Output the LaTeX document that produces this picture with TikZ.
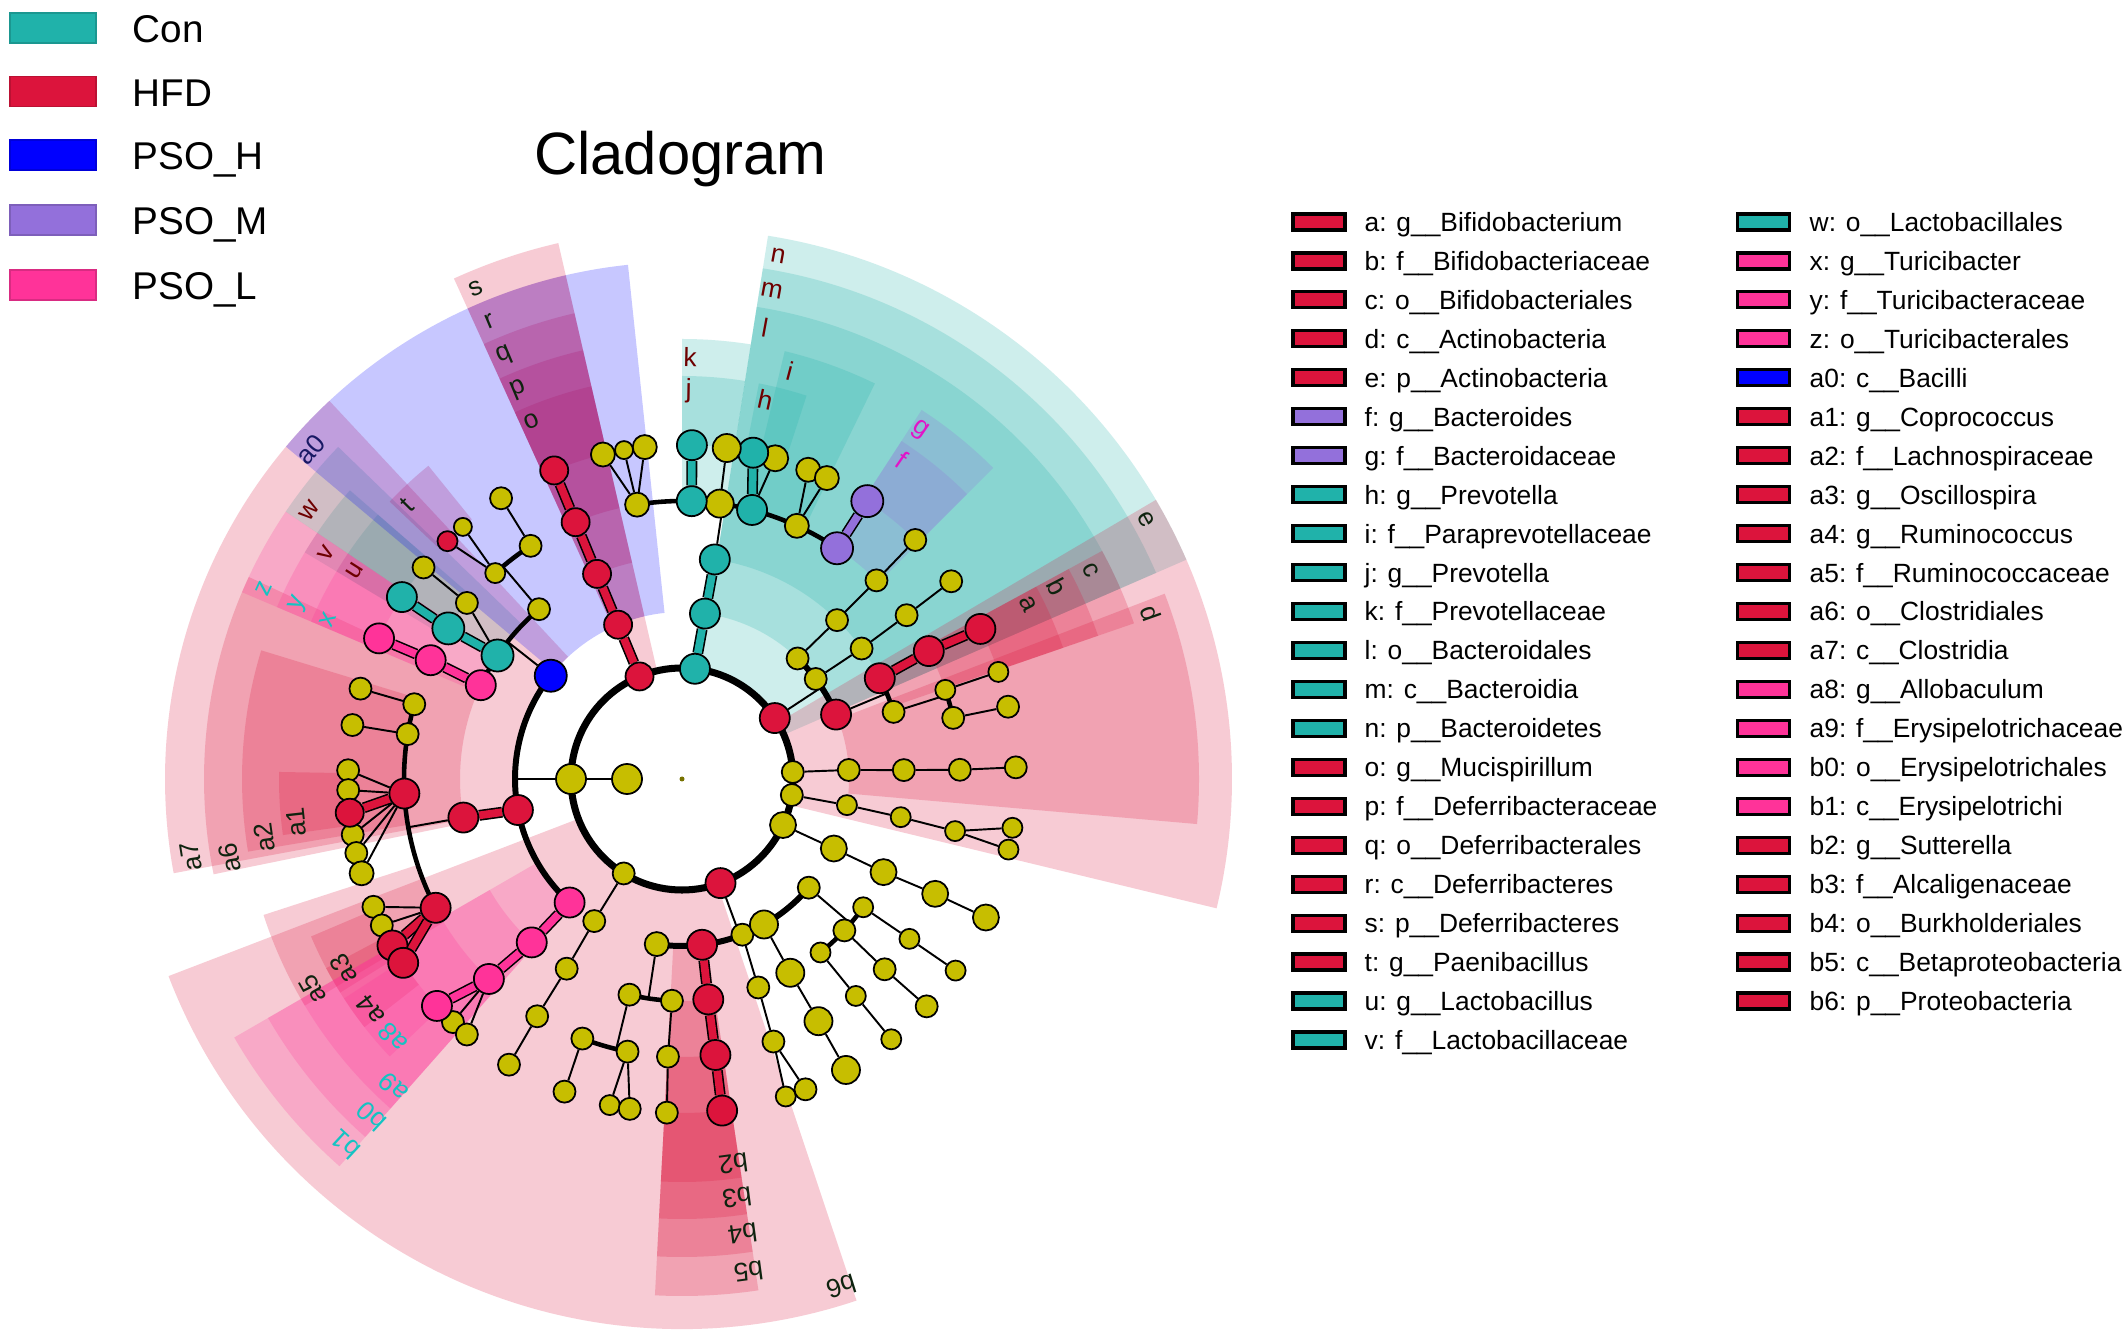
\documentclass[tikz,border=0pt]{standalone}
\usepackage{fontspec}
\setmainfont{Liberation Sans}
\pgfdeclarelayer{back}
\pgfdeclarelayer{edges}
\pgfsetlayers{back,edges,main}
\definecolor{Tc}{RGB}{32,178,170}
\definecolor{Rc}{RGB}{220,20,60}
\definecolor{Bc}{RGB}{0,0,255}
\definecolor{Pc}{RGB}{147,112,219}
\definecolor{Kc}{RGB}{255,51,153}
\definecolor{Yc}{RGB}{199,190,0}
\definecolor{dk}{RGB}{15,35,15}
\definecolor{mr}{RGB}{110,0,0}
\definecolor{mg}{RGB}{225,20,200}
\definecolor{cy}{RGB}{20,195,195}
\definecolor{nv}{RGB}{25,25,100}
\tikzset{
 nd/.style={circle, draw=black, line width=0.5pt, fill=#1, inner sep=0pt},
 thinE/.style={line width=0.55pt, draw=black},
 arcA/.style={line width=1.7pt, draw=black},
 arcB/.style={line width=1.3pt, draw=black},
 ring/.style={line width=2pt, draw=black},
 cE/.style={line width=0.45pt, draw=black, double=#1, double distance=2.2pt},
 sec/.style={fill=#1, fill opacity=0.22},
 lab/.style={font=\fontsize{7.5}{9}\selectfont, inner sep=0pt},
 leg/.style={font=\fontsize{7.5}{9}\selectfont, anchor=base west, inner sep=0pt},
 lbox/.style={draw=black, line width=0.9pt, fill=#1, minimum width=0.52cm, minimum height=0.16cm, inner sep=0pt, outer sep=0pt},
 gbox/.style={fill=#1, draw=#1!85!black, line width=0.3pt, minimum width=0.86cm, minimum height=0.30cm, inner sep=0pt},
 gtxt/.style={font=\fontsize{11}{13}\selectfont, anchor=base west, inner sep=0pt}
}
\newcommand\Nd[5]{\node[nd=#1, minimum size=#2*0.02cm] (#3) at (#4:#5) {};}
\newcommand\Sect[5]{\fill[sec=#5] (#1:#3) arc[start angle=#1,end angle=#2,radius=#3] -- (#2:#4) arc[start angle=#2,end angle=#1,radius=#4] -- cycle;}
\newcommand\Lb[5]{\node[lab, text=#5, rotate=#2-90] (lb#1) at (#2:#3) {#4};}
\begin{document}
\begin{tikzpicture}[x=0.01cm,y=0.01cm]
\useasboundingbox (0,0) rectangle (2128,1339);
\begin{pgfonlayer}{back}
\fill[white] (0,0) rectangle (2128,1339);
\end{pgfonlayer}
% group legend
\node[gbox=Tc] (gk1) at (53,1311) {};
\node[gtxt] (gt1) at (132,1296.3) {Con};
\node[gbox=Rc] (gk2) at (53,1247.5) {};
\node[gtxt] (gt2) at (132,1232.3) {HFD};
\node[gbox=Bc] (gk3) at (53,1184) {};
\node[gtxt] (gt3) at (132,1169) {PSO\_H};
\node[gbox=Pc] (gk4) at (53,1119) {};
\node[gtxt] (gt4) at (132,1104) {PSO\_M};
\node[gbox=Kc] (gk5) at (53,1054) {};
\node[gtxt] (gt5) at (132,1039) {PSO\_L};
% title
\node[font=\fontsize{17}{20}\selectfont, anchor=base, inner sep=0pt] (title) at (680.5,1164) {Cladogram};
% right legend
\foreach \t/\c [count=\i from 0] in {
a: g\_\_Bifidobacterium/Rc,
b: f\_\_Bifidobacteriaceae/Rc,
c: o\_\_Bifidobacteriales/Rc,
d: c\_\_Actinobacteria/Rc,
e: p\_\_Actinobacteria/Rc,
f: g\_\_Bacteroides/Pc,
g: f\_\_Bacteroidaceae/Pc,
h: g\_\_Prevotella/Tc,
i: f\_\_Paraprevotellaceae/Tc,
j: g\_\_Prevotella/Tc,
k: f\_\_Prevotellaceae/Tc,
l: o\_\_Bacteroidales/Tc,
m: c\_\_Bacteroidia/Tc,
n: p\_\_Bacteroidetes/Tc,
o: g\_\_Mucispirillum/Rc,
p: f\_\_Deferribacteraceae/Rc,
q: o\_\_Deferribacterales/Rc,
r: c\_\_Deferribacteres/Rc,
s: p\_\_Deferribacteres/Rc,
t: g\_\_Paenibacillus/Rc,
u: g\_\_Lactobacillus/Tc,
v: f\_\_Lactobacillaceae/Tc}{
 \pgfmathsetmacro\yy{1339-222-38.95*\i}
 \node[lbox=\c] (lk\i) at (1319,\yy) {};
 \node[leg] (lt\i) at (1364,\yy-9.5) {\t};
}
\foreach \t/\c [count=\i from 0] in {
w: o\_\_Lactobacillales/Tc,
x: g\_\_Turicibacter/Kc,
y: f\_\_Turicibacteraceae/Kc,
z: o\_\_Turicibacterales/Kc,
a0: c\_\_Bacilli/Bc,
a1: g\_\_Coprococcus/Rc,
a2: f\_\_Lachnospiraceae/Rc,
a3: g\_\_Oscillospira/Rc,
a4: g\_\_Ruminococcus/Rc,
a5: f\_\_Ruminococcaceae/Rc,
a6: o\_\_Clostridiales/Rc,
a7: c\_\_Clostridia/Rc,
a8: g\_\_Allobaculum/Kc,
a9: f\_\_Erysipelotrichaceae/Kc,
b0: o\_\_Erysipelotrichales/Kc,
b1: c\_\_Erysipelotrichi/Kc,
b2: g\_\_Sutterella/Rc,
b3: f\_\_Alcaligenaceae/Rc,
b4: o\_\_Burkholderiales/Rc,
b5: c\_\_Betaproteobacteria/Rc,
b6: p\_\_Proteobacteria/Rc}{
 \pgfmathsetmacro\yy{1339-222-38.95*\i}
 \node[lbox=\c] (mk\i) at (1763.5,\yy) {};
 \node[leg] (mt\i) at (1809,\yy-9.5) {\t};
}
% ===== cladogram =====
\begin{scope}[shift={(682,560)}]
\begin{pgfonlayer}{back}
\Sect{23.5}{81}{111}{550}{Tc}
\Sect{23.5}{81}{167}{517}{Tc}
\Sect{23.5}{81}{222}{478}{Tc}
\Sect{81}{90}{278}{440}{Tc}
\Sect{81}{90}{334}{403}{Tc}
\Sect{64}{76.5}{278}{440}{Tc}
\Sect{72}{79}{334}{403}{Tc}
\Sect{136}{146}{222}{478}{Tc}
\Sect{139}{149}{278}{440}{Tc}
\Sect{139}{149}{334}{403}{Tc}
\Sect{-13.6}{30.5}{111}{550}{Rc}
\Sect{-5}{21}{167}{517}{Rc}
\Sect{19}{28.5}{222}{478}{Rc}
\Sect{19}{28.5}{278}{440}{Rc}
\Sect{19}{28.5}{334}{403}{Rc}
\Sect{103}{114.5}{111}{550}{Rc}
\Sect{103}{114.5}{167}{517}{Rc}
\Sect{103}{114.5}{222}{478}{Rc}
\Sect{103}{114.5}{278}{440}{Rc}
\Sect{103}{114.5}{334}{403}{Rc}
\Sect{129}{136.5}{334}{403}{Rc}
\Sect{133}{190.5}{167}{517}{Rc}
\Sect{155}{191.5}{222}{478}{Rc}
\Sect{163}{189.5}{278}{440}{Rc}
\Sect{179}{188}{334}{403}{Rc}
\Sect{198}{211}{278}{440}{Rc}
\Sect{203}{212}{334}{403}{Rc}
\Sect{208}{218}{334}{403}{Rc}
\Sect{201}{288.5}{111}{550}{Rc}
\Sect{267}{278.5}{167}{517}{Rc}
\Sect{267}{278.5}{222}{478}{Rc}
\Sect{267}{278.5}{278}{440}{Rc}
\Sect{267}{278.5}{334}{403}{Rc}
\Sect{96}{140}{167}{517}{Bc}
\Sect{45}{57}{278}{440}{Pc}
\Sect{45}{57}{334}{403}{Pc}
\Sect{146}{157}{222}{478}{Kc}
\Sect{146}{157}{278}{440}{Kc}
\Sect{146}{157}{334}{403}{Kc}
\Sect{210}{228.5}{167}{517}{Kc}
\Sect{210}{228.5}{222}{478}{Kc}
\Sect{210}{228.5}{278}{440}{Kc}
\Sect{213}{223.5}{334}{403}{Kc}
\end{pgfonlayer}
\fill[Yc!60!black] (0,0) circle[radius=2.5];
% phyla
\Nd{Rc}{15}{ne}{33.3}{111}
\Nd{Yc}{11}{py1}{3.6}{111}
\Nd{Yc}{11}{py2}{-8.3}{111}
\Nd{Yc}{13}{py3}{-24.5}{111}
\Nd{Rc}{15}{nb6}{290.3}{111}
\Nd{Yc}{11}{py4}{238.3}{111}
\Nd{Yc}{15}{fir}{180}{111}
\Nd{Yc}{15}{fin}{180}{55}
\Nd{Rc}{14}{ns}{112.5}{111}
\Nd{Tc}{15}{nn}{83.3}{111}
% Actinobacteria
\Nd{Yc}{11}{ya}{46.2}{167}
\Nd{Yc}{11}{ya3}{45.7}{222}
\Nd{Yc}{11}{ya4}{45.6}{278}
\Nd{Yc}{11}{ya5}{45.7}{334}
\Nd{Yc}{11}{yb}{36.8}{167}
\Nd{Yc}{11}{yb3}{36}{222}
\Nd{Yc}{11}{yb4}{36.1}{278}
\Nd{Yc}{11}{yb5}{36.3}{334}
\Nd{Rc}{15}{ndd}{22.7}{167}
\Nd{Rc}{15}{nc}{27}{222}
\Nd{Rc}{15}{nbb}{27.4}{278}
\Nd{Rc}{15}{na}{26.7}{334}
\Nd{Yc}{11}{yc}{17.6}{222}
\Nd{Yc}{10}{yd}{18.7}{278}
\Nd{Yc}{11}{ye}{12.7}{278}
\Nd{Yc}{10}{yd5}{18.7}{334}
\Nd{Yc}{11}{ye5}{12.5}{334}
% other small phyla
\Nd{Yc}{11}{y12}{3.1}{167}
\Nd{Yc}{11}{y13}{2.3}{222}
\Nd{Yc}{11}{y14}{1.9}{278}
\Nd{Yc}{11}{y15}{2}{334}
\Nd{Yc}{10}{y22}{-9}{167}
\Nd{Yc}{10}{y23}{-9.9}{222}
\Nd{Yc}{10}{y24}{-10.8}{278}
\Nd{Yc}{10}{y25a}{-8.4}{334}
\Nd{Yc}{10}{y25b}{-12.2}{334}
\Nd{Yc}{13}{y32}{-24.6}{167}
\Nd{Yc}{13}{y33}{-24.8}{222}
\Nd{Yc}{13}{y34}{-24.4}{278}
\Nd{Yc}{13}{y35}{-24.5}{334}
% Proteobacteria
\Nd{Yc}{12}{yp1}{261.3}{167}
\Nd{Rc}{15}{nb5}{276.9}{167}
\Nd{Yc}{11}{yp2}{291.2}{167}
\Nd{Yc}{14}{yp3}{299.4}{167}
\Nd{Yc}{11}{yp4}{319.4}{167}
\Nd{Rc}{15}{nb4}{276.8}{222}
\Nd{Rc}{15}{nb3}{276.9}{278}
\Nd{Rc}{15}{nb2}{276.9}{334}
\Nd{Yc}{11}{yp23}{290.1}{222}
\Nd{Yc}{11}{yp24}{289.2}{278}
\Nd{Yc}{10}{yp25a}{288.1}{334}
\Nd{Yc}{11}{yp25b}{291.7}{334}
\Nd{Yc}{14}{yp33}{299.2}{222}
\Nd{Yc}{14}{yp34}{299.4}{278}
\Nd{Yc}{14}{yp35}{299.4}{334}
\Nd{Yc}{10}{yq1}{324.7}{222}
\Nd{Yc}{11}{yq2}{317}{222}
\Nd{Yc}{10}{yq3}{308.6}{222}
\Nd{Yc}{10}{yq14}{324.9}{278}
\Nd{Yc}{10}{yq15}{325}{334}
\Nd{Yc}{11}{yq24}{316.8}{278}
\Nd{Yc}{11}{yq25}{317.1}{334}
\Nd{Yc}{10}{yq34}{308.7}{278}
\Nd{Yc}{10}{yq35}{308.8}{334}
\Nd{Yc}{11}{yr1}{256.3}{222}
\Nd{Yc}{11}{yr2}{267.4}{222}
\Nd{Yc}{11}{yr1a}{249}{278}
\Nd{Yc}{11}{yr1b}{258.7}{278}
\Nd{Yc}{11}{yr1a5}{249.4}{334}
\Nd{Yc}{10}{yr1b5a}{257.5}{334}
\Nd{Yc}{11}{yr1b5b}{261}{334}
\Nd{Yc}{11}{yr24}{267.1}{278}
\Nd{Yc}{11}{yr25}{267.4}{334}
\Nd{Yc}{11}{y42}{238.3}{167}
\Nd{Yc}{11}{y43}{238.7}{222}
\Nd{Yc}{11}{y44}{238.6}{278}
\Nd{Yc}{11}{y45}{238.8}{334}
% Firmicutes
\Nd{Bc}{16}{na0}{141.8}{167}
\Nd{Rc}{15}{na7}{190.7}{167}
\Nd{Kc}{15}{nb1}{227.7}{167}
\Nd{Yc}{11}{ybac}{130.1}{222}
\Nd{Tc}{16}{nw}{146.2}{222}
\Nd{Kc}{15}{nz}{155}{222}
\Nd{Yc}{10}{yf1}{132.2}{278}
\Nd{Yc}{11}{yf2}{123}{278}
\Nd{Rc}{10}{nt}{134.6}{334}
\Nd{Yc}{9}{yt2}{131}{334}
\Nd{Yc}{11}{yf25}{122.8}{334}
\Nd{Tc}{16}{nv}{147.2}{278}
\Nd{Yc}{11}{yl}{140.7}{278}
\Nd{Tc}{15}{nu}{147}{334}
\Nd{Yc}{11}{yl5}{140.7}{334}
\Nd{Kc}{15}{ny}{154.7}{278}
\Nd{Kc}{15}{nx}{155.1}{334}
\Nd{Rc}{15}{na6}{190}{222}
\Nd{Yc}{11}{yg1}{164.4}{278}
\Nd{Yc}{11}{yg2}{170.7}{278}
\Nd{Rc}{15}{na2}{183}{278}
\Nd{Rc}{15}{na5}{207.6}{278}
\Nd{Yc}{11}{yg15}{164.3}{334}
\Nd{Yc}{11}{yg25}{170.7}{334}
\Nd{Yc}{11}{yc1}{178.5}{334}
\Nd{Yc}{11}{yc2}{181.9}{334}
\Nd{Yc}{11}{yc3}{189.6}{334}
\Nd{Yc}{11}{yc4}{192.8}{334}
\Nd{Yc}{12}{yc5}{196.4}{334}
\Nd{Rc}{14}{na1}{185.8}{334}
\Nd{Yc}{11}{yr5a}{202.5}{334}
\Nd{Yc}{11}{yr5b}{206}{334}
\Nd{Rc}{15}{na4}{209.9}{334}
\Nd{Rc}{15}{na3}{213.4}{334}
\Nd{Kc}{15}{nb0}{227.4}{222}
\Nd{Kc}{15}{na9}{226}{278}
\Nd{Yc}{11}{ye8a}{226.7}{334}
\Nd{Yc}{11}{ye8b}{229.9}{334}
\Nd{Kc}{15}{na8}{222.8}{334}
% Deferribacteres
\Nd{Rc}{14}{nr}{112.5}{167}
\Nd{Rc}{14}{nq}{112.5}{222}
\Nd{Rc}{14}{np}{112.5}{278}
\Nd{Rc}{14}{no}{112.5}{334}
% Bacteroidetes
\Nd{Tc}{15}{nm}{82.1}{167}
\Nd{Tc}{15}{nl}{81.5}{222}
\Nd{Pc}{16}{ng}{56.1}{278}
\Nd{Yc}{12}{yh}{65.6}{278}
\Nd{Tc}{15}{ni}{75.4}{278}
\Nd{Yc}{14}{yk}{82.2}{278}
\Nd{Tc}{15}{nk}{88}{278}
\Nd{Yc}{12}{ym}{99.3}{278}
\Nd{Pc}{16}{nf}{56.3}{334}
\Nd{Yc}{12}{yh5a}{67.8}{334}
\Nd{Yc}{12}{yh5b}{64.3}{334}
\Nd{Yc}{13}{yi5}{73.8}{334}
\Nd{Tc}{15}{nh}{77.7}{334}
\Nd{Yc}{14}{yk5}{82.3}{334}
\Nd{Tc}{15}{nj}{88.3}{334}
\Nd{Yc}{12}{ym5a}{103.7}{334}
\Nd{Yc}{9}{ym5b}{100}{334}
\Nd{Yc}{12}{ym5c}{96.4}{334}
% coordinates (free ends on arcs)
\coordinate (je) at (33.3:167);
\coordinate (jd) at (22.7:222);
\coordinate (jyc) at (17.6:278);
\coordinate (jb6) at (290.3:167);
\coordinate (jp4) at (319.4:222);
\coordinate (jp1) at (261.3:222);
\coordinate (jr1) at (256.3:278);
\coordinate (jf) at (180:167);
\coordinate (ja0) at (141.8:222);
\coordinate (jbac) at (130.1:278);
\coordinate (ja6) at (190:278);
\coordinate (jl) at (81.5:278);
\begin{pgfonlayer}{edges}
\draw[ring] (0,0) circle[radius=111];
\draw[thinE] (fir) -- (fin);
% Actinobacteria
\draw[thinE] (ne) -- (je);
\draw[arcA] (ndd.center) arc[start angle=22.7,end angle=46.2,radius=167];
\draw[thinE] (ya)--(ya3)--(ya4)--(ya5);
\draw[thinE] (yb)--(yb3)--(yb4)--(yb5);
\draw[thinE] (ndd) -- (jd);
\draw[arcB] (yc.center) arc[start angle=17.6,end angle=27,radius=222];
\draw[cE=Rc] (nc)--(nbb);
\draw[cE=Rc] (nbb)--(na);
\draw[thinE] (yc)--(jyc);
\draw[arcB] (ye.center) arc[start angle=12.7,end angle=18.7,radius=278];
\draw[thinE] (yd)--(yd5);
\draw[thinE] (ye)--(ye5);
% small phyla
\draw[thinE] (py1)--(y12)--(y13)--(y14)--(y15);
\draw[thinE] (py2)--(y22)--(y23)--(y24)--(y25a);
\draw[thinE] (y24)--(y25b);
\draw[thinE] (py3)--(y32)--(y33)--(y34)--(y35);
\draw[thinE] (py4)--(y42)--(y43)--(y44)--(y45);
% Proteobacteria
\draw[thinE] (nb6)--(jb6);
\draw[arcA] (yp1.center) arc[start angle=261.3,end angle=319.4,radius=167];
\draw[cE=Rc] (nb5)--(nb4);
\draw[cE=Rc] (nb4)--(nb3);
\draw[cE=Rc] (nb3)--(nb2);
\draw[thinE] (yp2)--(yp23)--(yp24)--(yp25a);
\draw[thinE] (yp24)--(yp25b);
\draw[thinE] (yp3)--(yp33)--(yp34)--(yp35);
\draw[thinE] (yp4)--(jp4);
\draw[arcB] (yq3.center) arc[start angle=308.6,end angle=324.7,radius=222];
\draw[thinE] (yq1)--(yq14)--(yq15);
\draw[thinE] (yq2)--(yq24)--(yq25);
\draw[thinE] (yq3)--(yq34)--(yq35);
\draw[thinE] (yp1)--(jp1);
\draw[arcB] (yr1.center) arc[start angle=256.3,end angle=267.4,radius=222];
\draw[thinE] (yr1)--(jr1);
\draw[arcB] (yr1a.center) arc[start angle=249,end angle=258.7,radius=278];
\draw[thinE] (yr1a)--(yr1a5);
\draw[thinE] (yr1b)--(yr1b5a);
\draw[thinE] (yr1b)--(yr1b5b);
\draw[thinE] (yr2)--(yr24)--(yr25);
% Firmicutes
\draw[thinE] (fir)--(jf);
\draw[arcA] (na0.center) arc[start angle=141.8,end angle=227.7,radius=167];
\draw[thinE] (na0)--(ja0);
\draw[arcB] (ybac.center) arc[start angle=130.1,end angle=155,radius=222];
\draw[thinE] (ybac)--(jbac);
\draw[arcB] (yf2.center) arc[start angle=123,end angle=132.2,radius=278];
\draw[thinE] (yf1)--(nt);
\draw[thinE] (yf1)--(yt2);
\draw[thinE] (yf2)--(yf25);
\draw[cE=Tc] (nw)--(nv);
\draw[cE=Tc] (nv)--(nu);
\draw[thinE] (nw)--(yl);
\draw[thinE] (yl)--(yl5);
\draw[cE=Kc] (nz)--(ny);
\draw[cE=Kc] (ny)--(nx);
\draw[cE=Rc] (na7)--(na6);
\draw[thinE] (na6)--(ja6);
\draw[arcB] (yg1.center) arc[start angle=164.4,end angle=207.6,radius=278];
\draw[thinE] (yg1)--(yg15);
\draw[thinE] (yg2)--(yg25);
\draw[thinE] (na2)--(yc1);
\draw[thinE] (na2)--(yc2);
\draw[thinE] (na2)--(yc3);
\draw[thinE] (na2)--(yc4);
\draw[thinE] (na2)--(yc5);
\draw[cE=Rc] (na2)--(na1);
\draw[thinE] (na5)--(yr5a);
\draw[thinE] (na5)--(yr5b);
\draw[cE=Rc] (na5)--(na4);
\draw[cE=Rc] (na5)--(na3);
\draw[cE=Kc] (nb1)--(nb0);
\draw[cE=Kc] (nb0)--(na9);
\draw[cE=Kc] (na9)--(na8);
\draw[thinE] (na9)--(ye8a);
\draw[thinE] (na9)--(ye8b);
% Deferribacteres
\draw[cE=Rc] (ns)--(nr);
\draw[cE=Rc] (nr)--(nq);
\draw[cE=Rc] (nq)--(np);
\draw[cE=Rc] (np)--(no);
% Bacteroidetes
\draw[cE=Tc] (nn)--(nm);
\draw[cE=Tc] (nm)--(nl);
\draw[thinE] (nl)--(jl);
\draw[arcB] (ng.center) arc[start angle=56.1,end angle=99.3,radius=278];
\draw[cE=Pc] (ng)--(nf);
\draw[thinE] (yh)--(yh5a);
\draw[thinE] (yh)--(yh5b);
\draw[cE=Tc] (ni)--(nh);
\draw[thinE] (ni)--(yi5);
\draw[thinE] (yk)--(yk5);
\draw[cE=Tc] (nk)--(nj);
\draw[thinE] (ym)--(ym5a);
\draw[thinE] (ym)--(ym5b);
\draw[thinE] (ym)--(ym5c);
\end{pgfonlayer}
% labels
\Lb{a}{26.8}{388}{a}{dk}
\Lb{b}{27.1}{422}{b}{dk}
\Lb{c}{27.1}{459}{c}{dk}
\Lb{d}{19.5}{497}{d}{dk}
\Lb{e}{29.2}{532}{e}{dk}
\Lb{f}{55.4}{388}{f}{mg}
\Lb{g}{55.7}{422}{g}{mg}
\Lb{h}{77.6}{388}{h}{mr}
\Lb{i}{75.2}{422}{i}{mr}
\Lb{j}{89}{388}{j}{mr}
\Lb{k}{88.9}{422}{k}{mr}
\Lb{l}{79.6}{459}{l}{mr}
\Lb{m}{79.6}{497}{m}{mr}
\Lb{n}{79.6}{532}{n}{mr}
\Lb{o}{112.8}{388}{o}{dk}
\Lb{p}{112.8}{422}{p}{dk}
\Lb{q}{112.8}{459}{q}{dk}
\Lb{r}{112.8}{497}{r}{dk}
\Lb{s}{112.8}{532}{s}{dk}
\Lb{t}{135.1}{388}{t}{dk}
\Lb{u}{147.5}{388}{u}{mr}
\Lb{v}{147.6}{422}{v}{mr}
\Lb{w}{144.2}{459}{w}{mr}
\Lb{x}{155.8}{388}{x}{cy}
\Lb{y}{155.4}{422}{y}{cy}
\Lb{z}{155.5}{459}{z}{cy}
\Lb{a0}{138.4}{497}{a0}{nv}
\Lb{a1}{186.4}{388}{a1}{dk}
\Lb{a2}{188}{422}{a2}{dk}
\Lb{a6}{189.9}{459}{a6}{dk}
\Lb{a7}{189}{497}{a7}{dk}
\Lb{a3}{209.3}{388}{a3}{dk}
\Lb{a4}{216.6}{388}{a4}{dk}
\Lb{a5}{209.7}{425}{a5}{dk}
\Lb{a8}{221.8}{388}{a8}{cy}
\Lb{a9}{226.9}{422}{a9}{cy}
\Lb{b0}{227.4}{459}{b0}{cy}
\Lb{b1}{227.3}{497}{b1}{cy}
\Lb{b2}{277.6}{388}{b2}{dk}
\Lb{b3}{277.5}{422}{b3}{dk}
\Lb{b4}{277.6}{459}{b4}{dk}
\Lb{b5}{277.7}{497}{b5}{dk}
\Lb{b6}{287.4}{532}{b6}{dk}
\end{scope}
\end{tikzpicture}
\end{document}
